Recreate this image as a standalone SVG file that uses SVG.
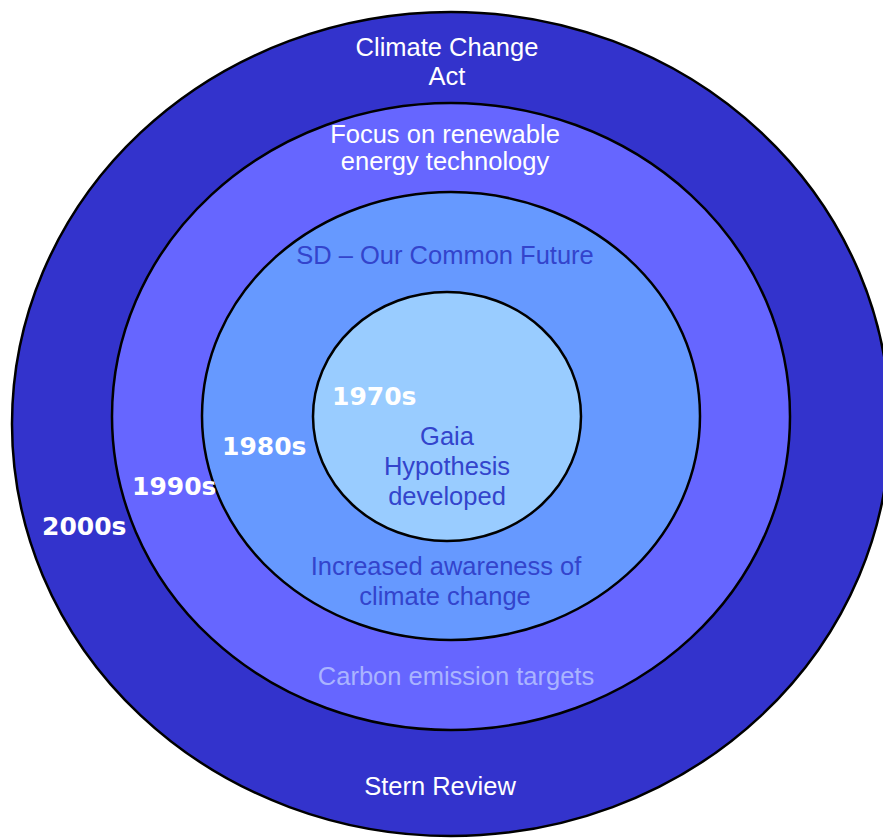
<svg xmlns="http://www.w3.org/2000/svg" width="883" height="839" viewBox="0 0 883 839">
  <style>
    .ring { stroke: #000; stroke-width: 2.5; }
    .lbl { font-family: "Liberation Sans", Arial, sans-serif; font-size: 25.5px; text-anchor: middle; }
    .dec { font-family: "DejaVu Sans", Verdana, sans-serif; font-weight: bold; font-size: 25px; fill: #ffffff; }
    .white { fill: #ffffff; }
    .dark { fill: #3344cc; }
    .pale { fill: #aab4ff; }
  </style>
  <rect width="883" height="839" fill="#ffffff"/>
  <g id="ring-2000s">
    <ellipse class="ring" cx="451" cy="424" rx="439" ry="412" fill="#3333cc"/>
    <text class="lbl white" x="447" y="56">Climate Change</text>
    <text class="lbl white" x="447" y="85">Act</text>
    <text class="lbl white" x="440" y="795">Stern Review</text>
  </g>
  <g id="ring-1990s">
    <ellipse class="ring" cx="451" cy="416.5" rx="339" ry="313.5" fill="#6666ff"/>
    <text class="lbl white" x="445" y="143">Focus on renewable</text>
    <text class="lbl white" x="445" y="170">energy technology</text>
    <text class="lbl pale" x="456" y="685">Carbon emission targets</text>
  </g>
  <g id="ring-1980s">
    <ellipse class="ring" cx="451" cy="416" rx="249" ry="224" fill="#6699ff"/>
    <text class="lbl dark" x="445" y="264">SD – Our Common Future</text>
    <text class="lbl dark" x="446" y="575">Increased awareness of</text>
    <text class="lbl dark" x="445" y="605">climate change</text>
  </g>
  <g id="ring-1970s">
    <ellipse class="ring" cx="447" cy="416.5" rx="134" ry="124.5" fill="#99ccff"/>
    <text class="lbl dark" x="447" y="445">Gaia</text>
    <text class="lbl dark" x="447" y="475">Hypothesis</text>
    <text class="lbl dark" x="447" y="505">developed</text>
  </g>
  <g id="decade-labels">
    <text class="dec" x="332" y="405">1970s</text>
    <text class="dec" x="222" y="455">1980s</text>
    <text class="dec" x="132" y="495">1990s</text>
    <text class="dec" x="42" y="535">2000s</text>
  </g>
</svg>
